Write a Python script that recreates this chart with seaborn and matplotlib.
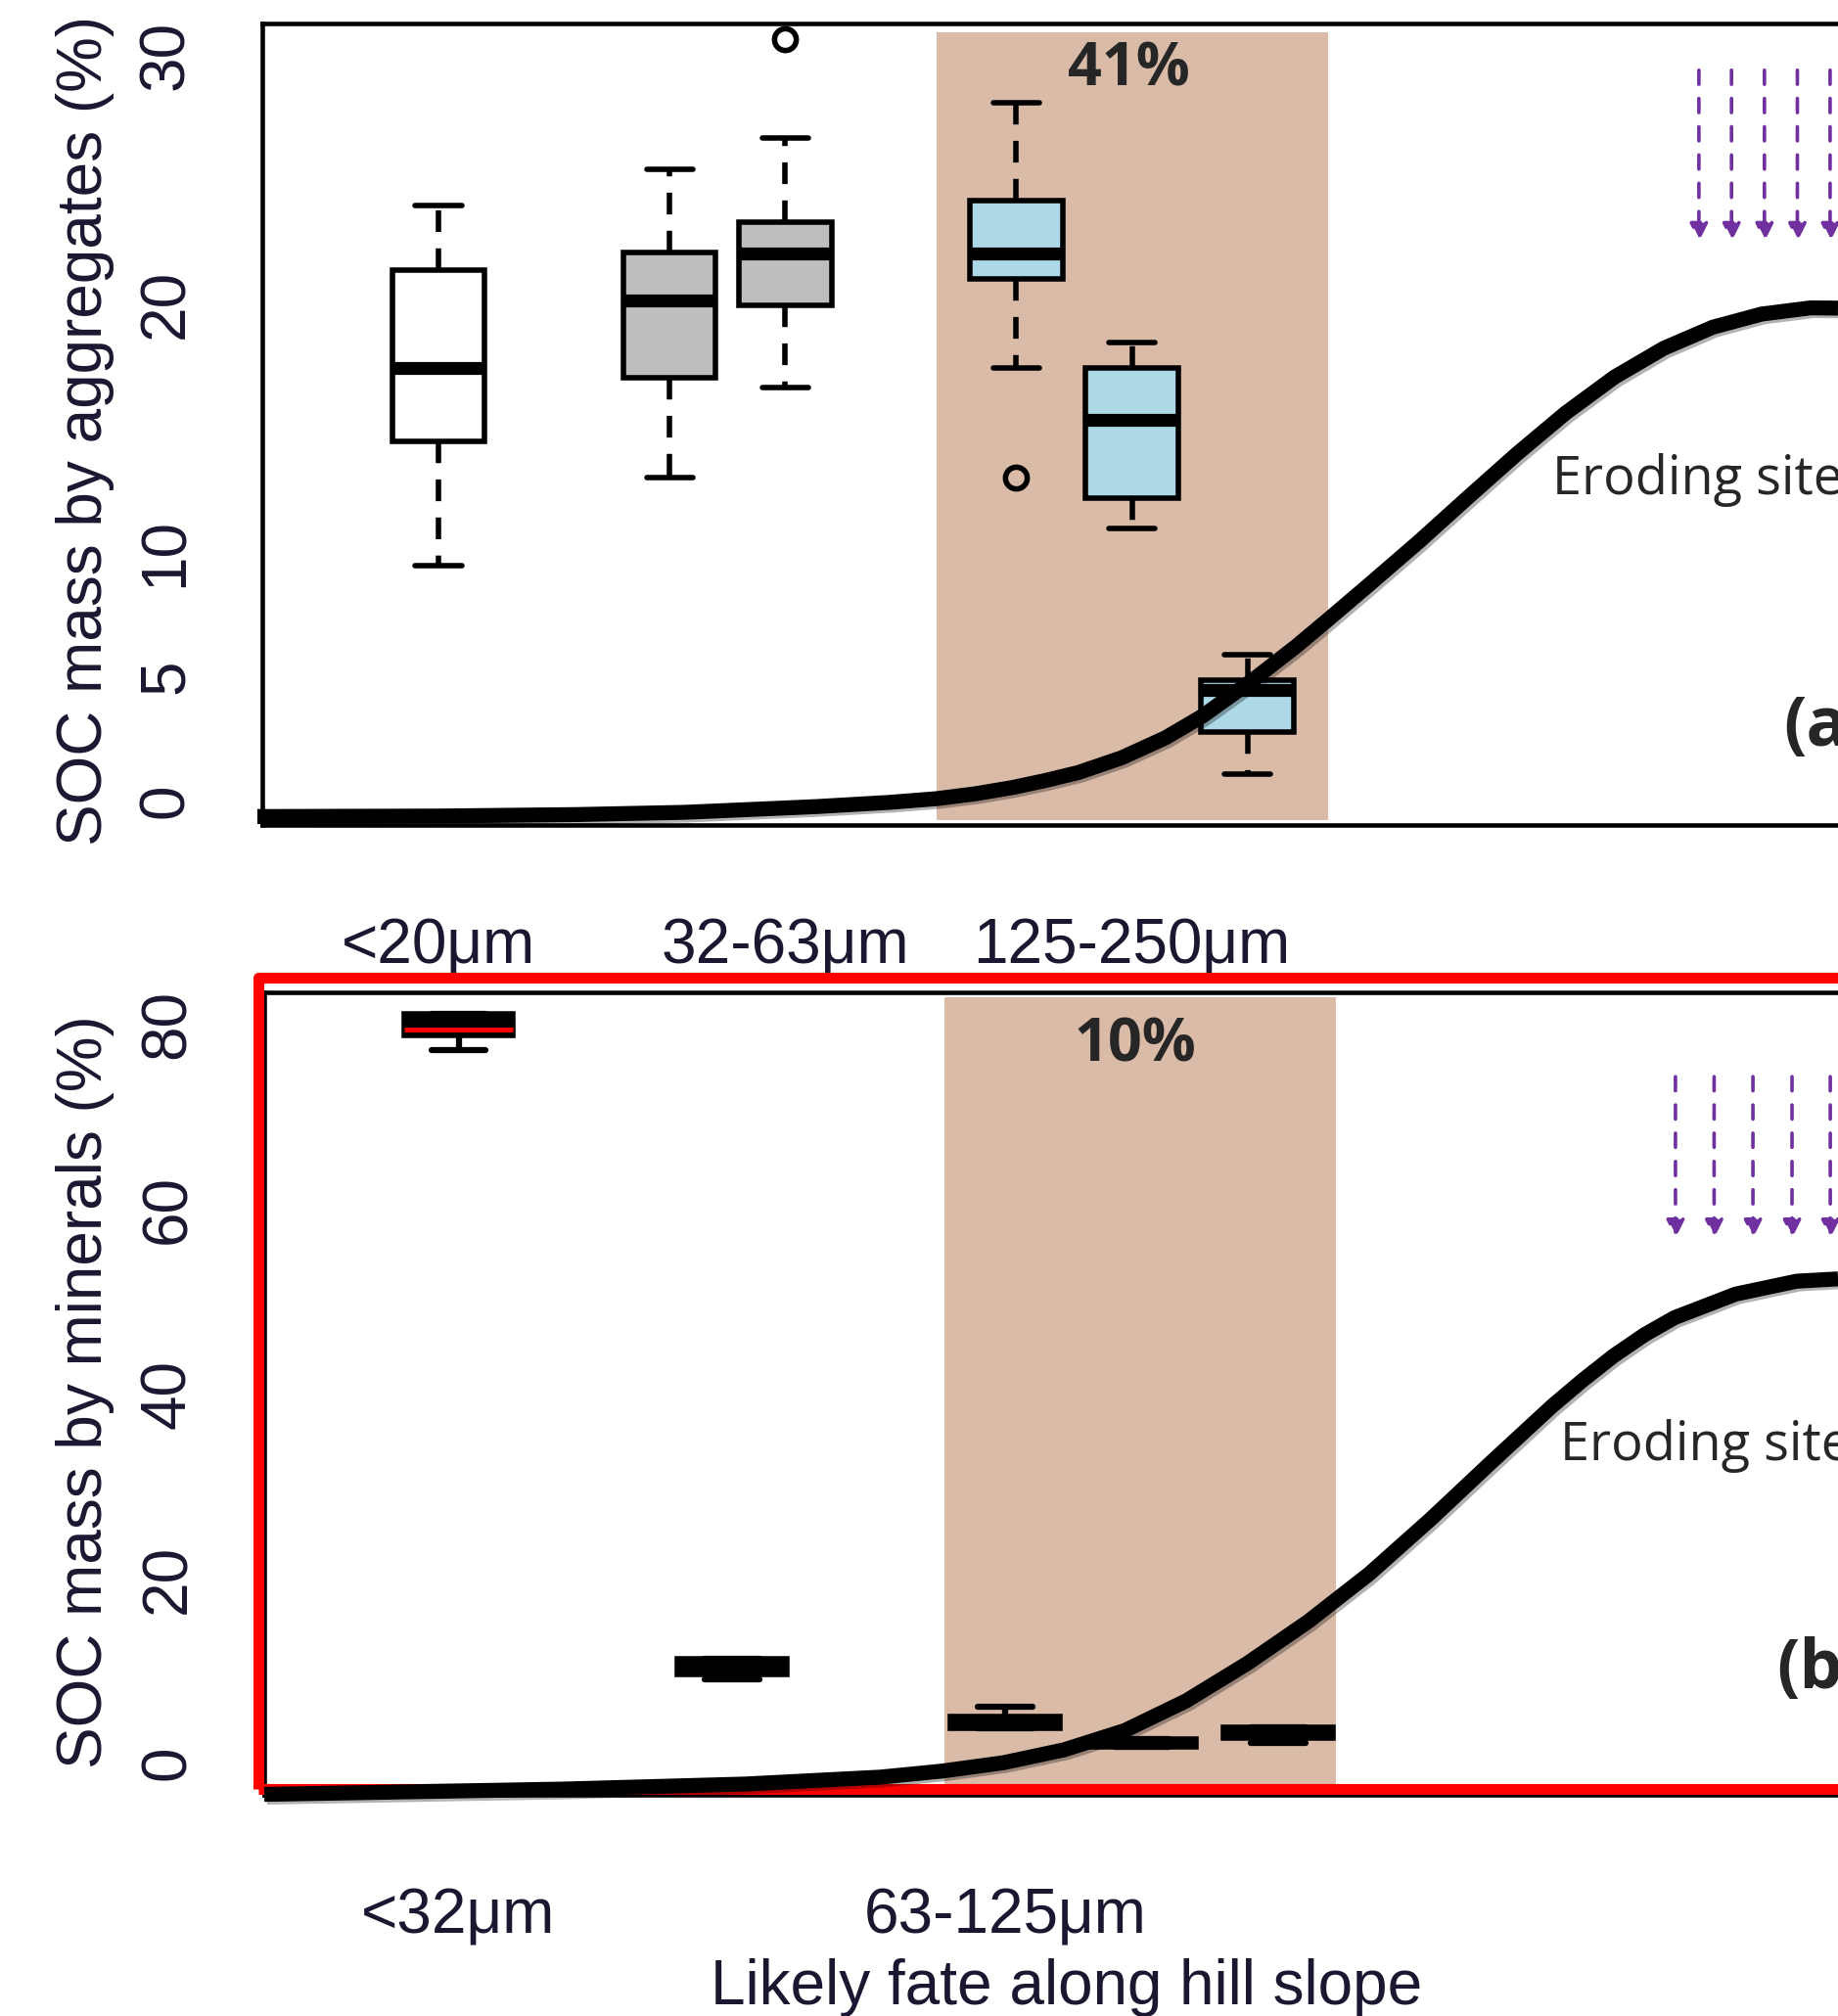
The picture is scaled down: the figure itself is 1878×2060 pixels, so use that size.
import matplotlib
matplotlib.use("Agg")
import matplotlib.pyplot as plt
import matplotlib.patheffects as pe
from matplotlib.patches import Rectangle
import seaborn as sns

# ---- panel (a): SOC mass by aggregates (%), box summaries
agg_pos = [1, 3, 4, 6, 7, 8]
agg_ticklabels = ['<20μm', '', '32-63μm', '', '125-250μm', '']
agg_whislo = [9.46, 13.01, 16.61, 17.43, 10.93, 1.06]
agg_q1 = [14.47, 17.02, 19.94, 21.0, 12.18, 2.74]
agg_med = [17.4, 20.13, 22.02, 22.02, 15.32, 4.43]
agg_q3 = [21.37, 22.05, 23.29, 24.13, 17.4, 4.84]
agg_whishi = [23.95, 25.4, 26.66, 28.09, 18.45, 5.86]
agg_fliers = [[], [], [30.65], [12.99], [], []]
agg_fill = ['white', '#BEBEBE', '#BEBEBE', '#ADD8E6', '#ADD8E6', '#ADD8E6']
agg_yticks = [0, 5, 10, 15, 20, 25, 30]
agg_yticklabels = ['0', '5', '10', '', '20', '', '30']

# ---- panel (b): SOC mass by minerals (%)
min_pos = [1, 3, 5, 6, 7]
min_ticklabels = ['<32μm', '', '63-125μm', '', '']
min_whislo = [77.26, 9.08, 3.81, 1.80, 2.19]
min_q1 = [78.84, 9.64, 3.81, 1.80, 2.75]
min_med = [79.5, 10.4, 4.4, 2.2, 3.3]
min_q3 = [81.2, 11.28, 5.03, 2.59, 3.89]
min_whishi = [81.2, 11.28, 6.17, 2.59, 3.89]
min_medcol = ['red', 'black', 'black', 'black', 'black']
min_yticks = [0, 20, 40, 60, 80]

# ---- hill slope profile (in each panel's units)
hill_a_x = [-0.567, 1.0, 2.2, 3.132, 4.267, 4.9, 5.310, 5.65, 5.968, 6.25, 6.535,
            6.913, 7.290, 7.612, 8.047, 8.425, 8.697, 9.060, 9.483, 9.907, 10.330,
            10.753, 11.177, 11.600, 12.024, 12.447, 12.871, 13.108]
hill_a_y = [-0.65, -0.63, -0.57, -0.48, -0.25, -0.08, 0.07, 0.27, 0.52, 0.8, 1.12,
            1.72, 2.52, 3.4, 4.85, 6.22, 7.28, 8.72, 10.42, 12.2, 13.95,
            15.6, 17.05, 18.2, 19.05, 19.58, 19.83, 19.82]
hill_b_x = [-0.422, 1.756, 3.1, 4.091, 4.538, 4.985, 5.431, 5.878, 6.325, 6.772,
            7.219, 7.665, 8.113, 8.559, 9.006, 9.23, 9.453, 9.68, 9.900, 10.347,
            10.794, 11.097]
hill_b_y = [-3.37, -2.8, -2.25, -1.5, -0.85, 0.05, 1.45, 3.55, 6.75, 10.8,
            15.35, 20.5, 26.4, 32.6, 38.7, 41.5, 44.1, 46.4, 48.25, 50.8,
            52.2, 52.45]

# shaded "likely fate" band and the rain arrows
shade_a_x = [5.31, 8.70]
shade_a_y = [-0.81, 30.94]
shade_b_x = [4.556, 7.425]
shade_b_y = [-2.36, 82.9]
rain_a_x = [11.905, 12.187, 12.472, 12.757, 13.04]
rain_a_y = [29.4, 22.5]
rain_b_x = [9.907, 10.19, 10.474, 10.76, 11.04]
rain_b_y = [74.35, 56.87]

sns.set_style("white")
plt.rcParams['font.family'] = ['Liberation Sans', 'DejaVu Sans']
textc = '#1c1630'
tan = '#D9BBA8'
purple = '#7030A0'

W, H = 1878, 2060
fig = plt.figure(figsize=(W / 100, H / 100), dpi=100)


def px_axes(left, top, bottom, xlim, unit):
    width = (xlim[1] - xlim[0]) * unit
    ax = fig.add_axes([left / W, 1 - bottom / H, width / W, (bottom - top) / H])
    ax.set_xlim(*xlim)
    return ax


ax1 = px_axes(268, 24, 843, (-0.524, 14.5), 118.1)
ax1.set_ylim(-0.99, 31.28)
ax2 = px_axes(270, 1014, 1834, (-0.422, 12.0), 139.6)
ax2.set_ylim(-3.42, 83.48)

# panel (a) boxes
stats_a = [dict(whislo=a, q1=b, med=c, q3=d, whishi=e, fliers=f)
           for a, b, c, d, e, f in zip(agg_whislo, agg_q1, agg_med, agg_q3, agg_whishi, agg_fliers)]
bp = ax1.bxp(stats_a, positions=agg_pos, widths=0.8, capwidths=0.4, patch_artist=True,
             showfliers=True, manage_ticks=False,
             boxprops=dict(linewidth=4, edgecolor='black', joinstyle='miter'),
             whiskerprops=dict(linewidth=4, linestyle=(0, (4, 3)), color='black'),
             capprops=dict(linewidth=4, color='black'),
             medianprops=dict(linewidth=9.5, color='black', solid_capstyle='butt'),
             flierprops=dict(marker='o', markersize=16, markerfacecolor='none',
                             markeredgecolor='black', markeredgewidth=4))
for patch, c in zip(bp['boxes'], agg_fill):
    patch.set_facecolor(c)
    patch.set_zorder(2)

# panel (b) boxes
stats_b = [dict(whislo=a, q1=b, med=c, q3=d, whishi=e, fliers=[])
           for a, b, c, d, e in zip(min_whislo, min_q1, min_med, min_q3, min_whishi)]
bp2 = ax2.bxp(stats_b, positions=min_pos, widths=0.8, capwidths=0.4, patch_artist=True,
              showfliers=False, manage_ticks=False,
              boxprops=dict(linewidth=4, edgecolor='black', facecolor='black', joinstyle='miter'),
              whiskerprops=dict(linewidth=4.5, color='black'),
              capprops=dict(linewidth=4.5, color='black'),
              medianprops=dict(linewidth=3.6, solid_capstyle='butt'))
for m, c in zip(bp2['medians'], min_medcol):
    m.set_color(c)

for ax, sx, sy, hx, hy, rx, ry in [(ax1, shade_a_x, shade_a_y, hill_a_x, hill_a_y, rain_a_x, rain_a_y),
                                   (ax2, shade_b_x, shade_b_y, hill_b_x, hill_b_y, rain_b_x, rain_b_y)]:
    ax.fill_between(sx, sy[0], sy[1], color=tan, zorder=0.5, lw=0)
    sns.lineplot(x=hx, y=hy, ax=ax, color='black', linewidth=11, sort=False,
                 estimator=None, zorder=4)
    line = ax.lines[-1]
    line.set_clip_on(False)
    line.set_solid_capstyle('butt')
    line.set_solid_joinstyle('round')
    line.set_path_effects([pe.SimpleLineShadow(offset=(2, -2), alpha=0.3), pe.Normal()])
    for x in rx:
        ax.annotate('', xy=(x, ry[1]), xytext=(x, ry[0]),
                    arrowprops=dict(arrowstyle='-|>,head_width=0.55,head_length=1.1',
                                    mutation_scale=10, color=purple, lw=2.6,
                                    ls=(0, (4, 4)), shrinkA=0, shrinkB=0))
    for s in ax.spines.values():
        s.set_linewidth(3.3)
        s.set_color('black')
    ax.tick_params(axis='both', direction='out', length=29, width=3, color='black',
                   labelsize=46, labelcolor=textc)
    ax.tick_params(axis='x', pad=39)
    ax.tick_params(axis='y', pad=20)
    ax.set_xlabel('')
    ax.set_ylabel('')

ax1.set_xticks(agg_pos, agg_ticklabels)
ax1.set_yticks(agg_yticks, agg_yticklabels, rotation=90, va='center')
ax2.set_xticks(min_pos, min_ticklabels)
ax2.set_yticks(min_yticks, [str(v) for v in min_yticks], rotation=90, va='center')

# annotations
ax1.text(6.97, 28.76, '41%', ha='center', va='baseline', fontsize=44,
         fontweight='bold', family='Open Sans', zorder=6)
ax2.text(5.95, 76.0, '10%', ha='center', va='baseline', fontsize=44,
         fontweight='bold', family='Open Sans', zorder=6)
ax1.text(10.64, 12.32, 'Eroding site', ha='left', va='baseline', fontsize=39,
         family='Open Sans', zorder=6)
ax2.text(9.06, 32.86, 'Eroding site', ha='left', va='baseline', fontsize=39,
         family='Open Sans', zorder=6)
ax1.text(12.64, 2.2, '(a)', ha='left', va='baseline', fontsize=50,
         fontweight='bold', family='Open Sans', zorder=6)
ax2.text(10.65, 8.13, '(b)', ha='left', va='baseline', fontsize=50,
         fontweight='bold', family='Open Sans', zorder=6)

# red highlight frame around panel (b)
ax2.add_patch(Rectangle((264 / W, 1 - 1827.5 / H), 0.9, (1827.5 - 999) / H,
                        transform=fig.transFigure, fill=False, edgecolor='#FF0000',
                        linewidth=8, joinstyle='round', clip_on=False, zorder=3))

fig.text(87 / W, 1 - 440 / H, 'SOC mass by aggregates (%)', rotation=90,
         ha='center', va='center', fontsize=46, color=textc)
fig.text(87 / W, 1 - 1422.6 / H, 'SOC mass by minerals (%)', rotation=90,
         ha='center', va='center', fontsize=46, color=textc)
fig.text(1090 / W, 1 - 2048 / H, 'Likely fate along hill slope', ha='center',
         va='baseline', fontsize=46, color=textc)

fig.savefig('out.png', dpi=100)
